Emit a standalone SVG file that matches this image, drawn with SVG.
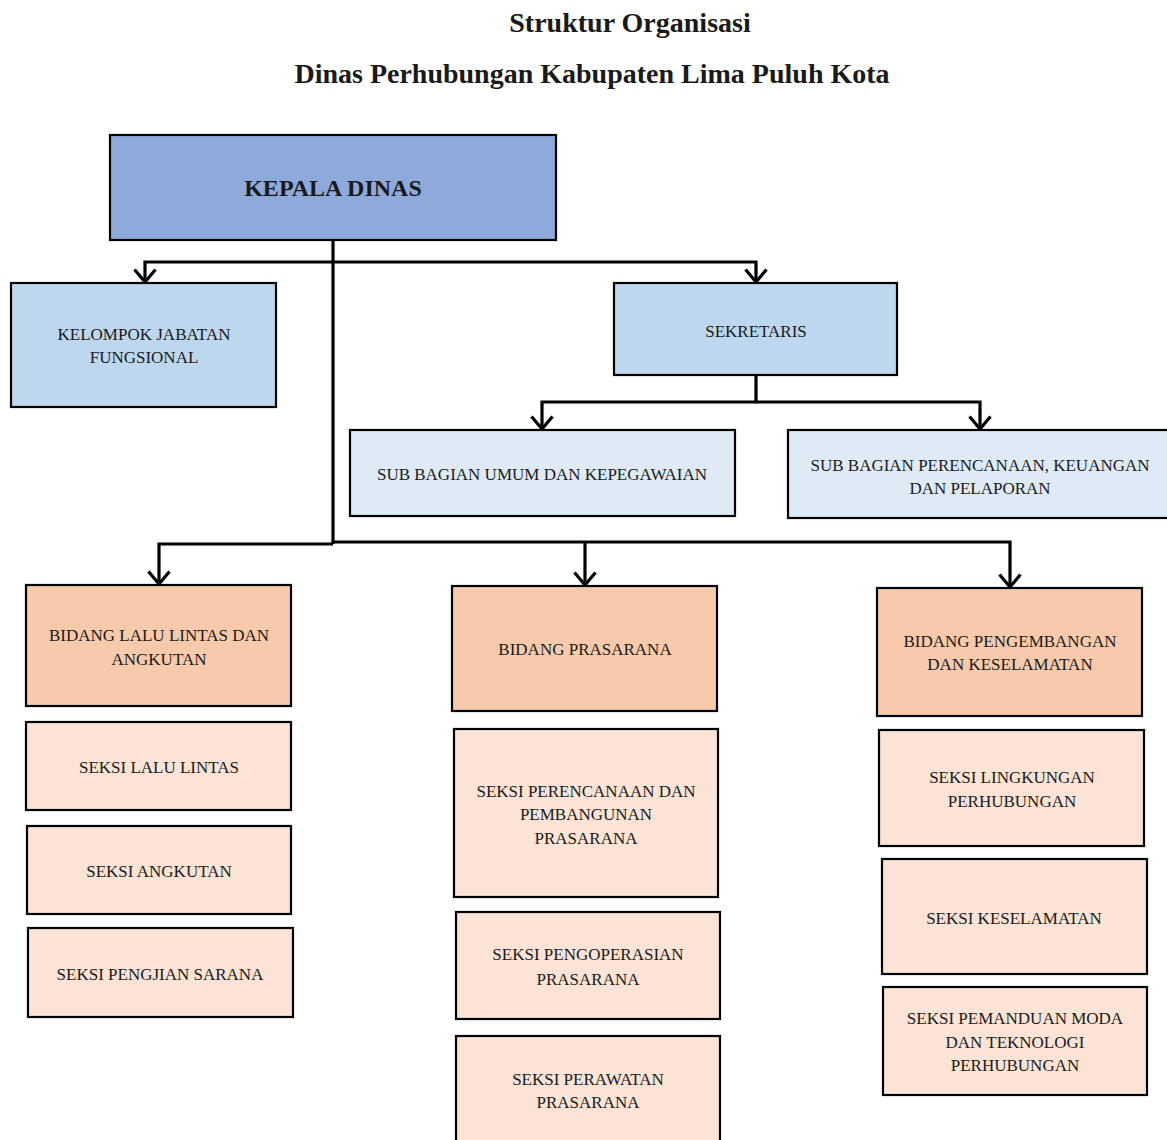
<svg xmlns="http://www.w3.org/2000/svg" width="1167" height="1140" viewBox="0 0 1167 1140">
<defs>
<style>
.box{stroke:#000;stroke-width:2.2}
.k{fill:#8eaadb}
.s{fill:#bdd7ee}
.u{fill:#deebf7}
.b{fill:#f7caac}
.x{fill:#fbe4d5}
text{font-family:"Liberation Serif","DejaVu Serif",serif;fill:#1a1a1a;text-anchor:middle}
.t{font-size:17px}
.h{font-size:28px;font-weight:bold}
.c{stroke:#000;stroke-width:3.2;fill:none}
</style>
<marker id="ar" viewBox="0 0 24 16" refX="12" refY="14" markerWidth="24" markerHeight="16" markerUnits="userSpaceOnUse" orient="0">
<path d="M1.5 1.5 L12 14 L22.5 1.5" fill="none" stroke="#000" stroke-width="3.2"/>
</marker>
</defs>
<rect width="1167" height="1140" fill="#fff"/>
<text class="h" x="630" y="32">Struktur Organisasi</text>
<text class="h" x="592" y="83">Dinas Perhubungan Kabupaten Lima Puluh Kota</text>

<g id="connectors">
<path class="c" d="M333 240 V544"/>
<path class="c" d="M333 262 H145 V282" marker-end="url(#ar)"/>
<path class="c" d="M333 262 H756 V282" marker-end="url(#ar)"/>
<path class="c" d="M756 375 V402 H542 V429" marker-end="url(#ar)"/>
<path class="c" d="M756 402 H980 V429" marker-end="url(#ar)"/>
<path class="c" d="M333 544 H159 V584" marker-end="url(#ar)"/>
<path class="c" d="M333 542 H1010 V587" marker-end="url(#ar)"/>
<path class="c" d="M585 542 V585" marker-end="url(#ar)"/>
</g>

<g id="kepala-dinas"><rect class="box k" x="110" y="135" width="446" height="105"/><text x="333" y="196" style="font-size:24px;font-weight:bold">KEPALA DINAS</text></g>

<g id="kelompok-jabatan"><rect class="box s" x="11" y="283" width="265" height="124"/><text class="t" x="144" y="340">KELOMPOK JABATAN</text><text class="t" x="144" y="363">FUNGSIONAL</text></g>

<g id="sekretaris"><rect class="box s" x="614" y="283" width="283" height="92"/><text class="t" x="756" y="337">SEKRETARIS</text></g>

<g id="sub-umum"><rect class="box u" x="350" y="430" width="385" height="86"/><text class="t" x="542" y="480">SUB BAGIAN UMUM DAN KEPEGAWAIAN</text></g>

<g id="sub-perencanaan"><rect class="box u" x="788" y="430" width="384" height="88"/><text class="t" x="980" y="471">SUB BAGIAN PERENCANAAN, KEUANGAN</text><text class="t" x="980" y="494">DAN PELAPORAN</text></g>

<g id="bidang-lalu-lintas"><rect class="box b" x="26" y="585" width="265" height="121"/><text class="t" x="159" y="641">BIDANG LALU LINTAS DAN</text><text class="t" x="159" y="665">ANGKUTAN</text></g>

<g id="bidang-prasarana"><rect class="box b" x="452" y="586" width="265" height="125"/><text class="t" x="585" y="655">BIDANG PRASARANA</text></g>

<g id="bidang-pengembangan"><rect class="box b" x="877" y="588" width="265" height="128"/><text class="t" x="1010" y="647">BIDANG PENGEMBANGAN</text><text class="t" x="1010" y="670">DAN KESELAMATAN</text></g>

<g id="seksi-lalu-lintas"><rect class="box x" x="26" y="722" width="265" height="88"/><text class="t" x="159" y="773">SEKSI LALU LINTAS</text></g>

<g id="seksi-angkutan"><rect class="box x" x="27" y="826" width="264" height="88"/><text class="t" x="159" y="877">SEKSI ANGKUTAN</text></g>

<g id="seksi-pengjian"><rect class="box x" x="28" y="928" width="265" height="89"/><text class="t" x="160" y="980">SEKSI PENGJIAN SARANA</text></g>

<g id="seksi-perencanaan"><rect class="box x" x="454" y="729" width="264" height="168"/><text class="t" x="586" y="797">SEKSI PERENCANAAN DAN</text><text class="t" x="586" y="820">PEMBANGUNAN</text><text class="t" x="586" y="844">PRASARANA</text></g>

<g id="seksi-pengoperasian"><rect class="box x" x="456" y="912" width="264" height="107"/><text class="t" x="588" y="960">SEKSI PENGOPERASIAN</text><text class="t" x="588" y="985">PRASARANA</text></g>

<g id="seksi-perawatan"><rect class="box x" x="456" y="1036" width="264" height="110"/><text class="t" x="588" y="1085">SEKSI PERAWATAN</text><text class="t" x="588" y="1108">PRASARANA</text></g>

<g id="seksi-lingkungan"><rect class="box x" x="879" y="730" width="265" height="116"/><text class="t" x="1012" y="783">SEKSI LINGKUNGAN</text><text class="t" x="1012" y="807">PERHUBUNGAN</text></g>

<g id="seksi-keselamatan"><rect class="box x" x="882" y="859" width="265" height="115"/><text class="t" x="1014" y="924">SEKSI KESELAMATAN</text></g>

<g id="seksi-pemanduan"><rect class="box x" x="883" y="987" width="264" height="108"/><text class="t" x="1015" y="1024">SEKSI PEMANDUAN MODA</text><text class="t" x="1015" y="1048">DAN TEKNOLOGI</text><text class="t" x="1015" y="1071">PERHUBUNGAN</text></g>
</svg>
